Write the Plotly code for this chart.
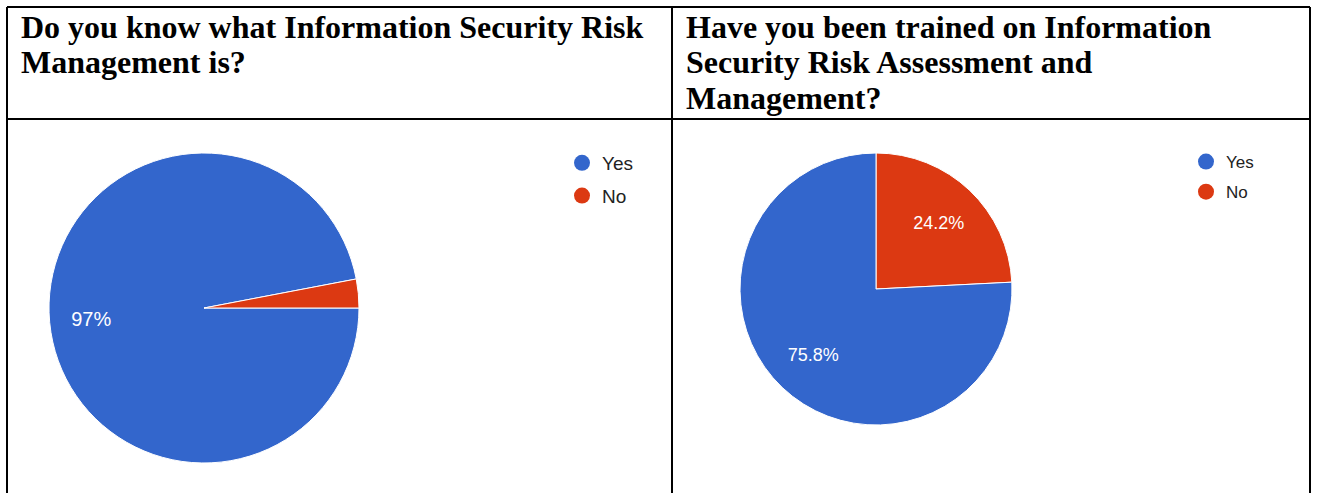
import plotly.graph_objects as go

W, H = 1317, 493

# Survey answers shared by both questions
answers = ["Yes", "No"]
answer_colors = ["#3366CC", "#DC3912"]

# Percentage of respondents per answer
knows_isrm = [97, 3]
trained_isrm = [75.8, 24.2]

# Table header text, one entry per printed line
q1_lines = ["Do you know what Information Security Risk", "Management is?"]
q2_lines = ["Have you been trained on Information",
            "Security Risk Assessment and",
            "Management?"]


def px(x):
    return x / W


def py(y):
    return 1 - y / H


def pie_pair(labels, values, colors, domain, direction, rotation,
             text_pos, text_size, label_hole):
    """Coloured pie plus a transparent ring on top that carries the
    percentage labels, so they sit out towards the rim."""
    base = go.Pie(
        labels=labels, values=values, sort=False,
        direction=direction, rotation=rotation,
        marker=dict(colors=colors, line=dict(color="white", width=1)),
        textinfo="none", domain=domain, showlegend=False,
        hoverinfo="label+percent",
    )
    ring = go.Pie(
        labels=labels, values=values, sort=False,
        direction=direction, rotation=rotation, hole=label_hole,
        marker=dict(colors=["rgba(0,0,0,0)"] * len(values), line=dict(width=0)),
        textinfo="percent", textposition=text_pos,
        insidetextorientation="horizontal",
        insidetextfont=dict(family="Liberation Sans, Arial", size=text_size,
                            color="white"),
        domain=domain, showlegend=False, hoverinfo="skip",
    )
    return [base, ring]


fig = go.Figure()

# Left pie: starts at 3 o'clock and runs clockwise; the thin "No" slice is unlabelled
fig.add_traces(pie_pair(
    answers, knows_isrm, answer_colors,
    dict(x=[px(49), px(359)], y=[py(463), py(153)]),
    "clockwise", 90, ["inside", "none"], 20, 0.46,
))

# Right pie: "No" from 12 o'clock clockwise, "Yes" fills the rest
fig.add_traces(pie_pair(
    answers[::-1], trained_isrm[::-1], answer_colors[::-1],
    dict(x=[px(740), px(1012)], y=[py(425), py(153)]),
    "clockwise", 0, "inside", 18, 0.34,
))

# Circle legend entries for each pie
for legend_id in ["legend", "legend2"]:
    for name, color in zip(answers, answer_colors):
        fig.add_trace(go.Scatter(
            x=[None], y=[None], mode="markers", name=name,
            marker=dict(symbol="circle", size=16, color=color),
            legend=legend_id, legendgroup=legend_id + name,
            hoverinfo="skip",
        ))

# Table borders
border = dict(color="black", width=2)
shapes = [
    dict(type="line", xref="paper", yref="paper", x0=px(7), x1=px(1310), y0=py(7), y1=py(7), line=border),
    dict(type="line", xref="paper", yref="paper", x0=px(7), x1=px(1310), y0=py(119), y1=py(119), line=border),
    dict(type="line", xref="paper", yref="paper", x0=px(7), x1=px(7), y0=py(7), y1=py(493), line=border),
    dict(type="line", xref="paper", yref="paper", x0=px(672), x1=px(672), y0=py(7), y1=py(493), line=border),
    dict(type="line", xref="paper", yref="paper", x0=px(1310), x1=px(1310), y0=py(7), y1=py(493), line=border),
]

# Header text, one annotation per line
annotations = []
head_font = dict(family="Liberation Serif, Times New Roman", size=32, color="black")
line_centres = [27, 62, 98]
for lines, x0 in [(q1_lines, 19), (q2_lines, 684)]:
    for i, line in enumerate(lines):
        annotations.append(dict(
            text="<b>" + line + "</b>", xref="paper", yref="paper",
            x=px(x0), y=py(line_centres[i]), xanchor="left", yanchor="middle",
            showarrow=False, font=head_font,
        ))

fig.update_layout(
    width=W, height=H,
    margin=dict(l=0, r=0, t=0, b=0),
    paper_bgcolor="white", plot_bgcolor="white",
    xaxis=dict(visible=False), yaxis=dict(visible=False),
    shapes=shapes, annotations=annotations,
    legend=dict(
        x=px(562), y=py(144), xanchor="left", yanchor="top",
        font=dict(family="Liberation Sans, Arial", size=19, color="#222222"),
        tracegroupgap=5, bgcolor="rgba(0,0,0,0)",
    ),
    legend2=dict(
        x=px(1186), y=py(144), xanchor="left", yanchor="top",
        font=dict(family="Liberation Sans, Arial", size=17, color="#222222"),
        tracegroupgap=5, bgcolor="rgba(0,0,0,0)",
    ),
)

fig.write_html("out.html")
